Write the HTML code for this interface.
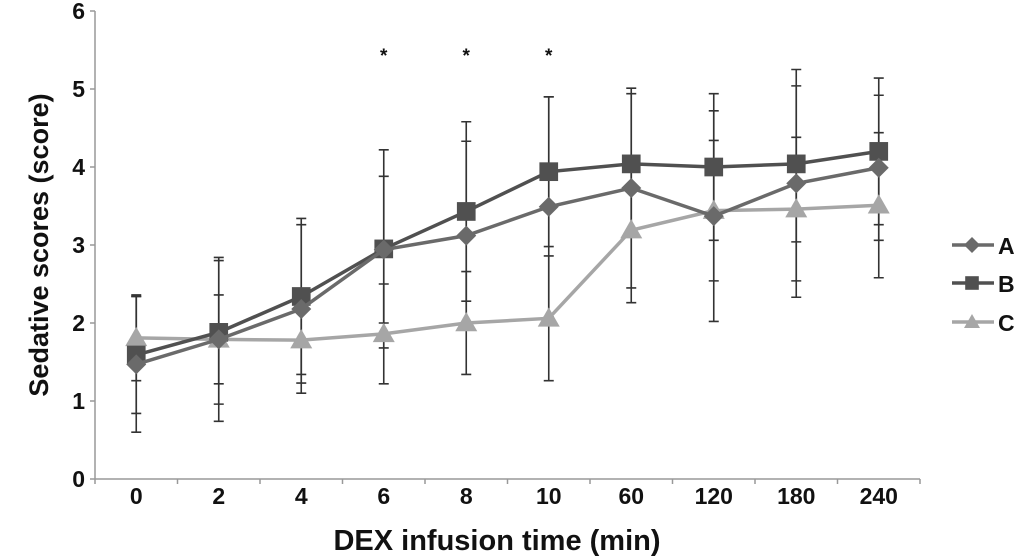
<!DOCTYPE html>
<html><head><meta charset="utf-8"><style>
html,body{margin:0;padding:0;background:#fff;}
svg{display:block;font-family:"Liberation Sans",sans-serif;font-weight:bold;}
</style></head><body>
<svg id="chart" width="1033" height="559" viewBox="0 0 1033 559" xmlns="http://www.w3.org/2000/svg">
<g id="axes"></g><g id="errs"></g><g id="lines"></g><g id="legend"></g>
</svg>
<script>
const categories = ["0","2","4","6","8","10","60","120","180","240"];
const seriesA = [1.47,1.79,2.18,2.94,3.12,3.49,3.73,3.37,3.79,3.99];
const seriesB = [1.59,1.88,2.34,2.95,3.43,3.94,4.04,4.00,4.04,4.20];
const seriesC = [1.81,1.79,1.78,1.86,2.00,2.06,3.19,3.44,3.46,3.51];
const sdA = [0.87,1.05,1.08,0.94,1.21,1.41,1.28,1.35,1.46,0.93];
const sdB = [0.75,0.92,1.00,1.27,1.15,0.96,0.90,0.94,1.00,0.94];
const sdC = [0.55,0.57,0.55,0.64,0.66,0.80,0.93,0.90,0.92,0.93];
const yTicks = [0,1,2,3,4,5,6];
const significant = ["6","8","10"];

const NS="http://www.w3.org/2000/svg";
const x0=95, band=82.5, y0=479, unit=78;
const xScale=i=>x0+band*(i+0.5);
const yScale=v=>y0-v*unit;
function mk(tag,attrs,parent){const e=document.createElementNS(NS,tag);for(const k in attrs)e.setAttribute(k,attrs[k]);parent.appendChild(e);return e;}
const axes=document.getElementById('axes'),errs=document.getElementById('errs'),lines=document.getElementById('lines'),legend=document.getElementById('legend');

let yl=mk('line',{x1:x0,y1:yScale(6),x2:x0,y2:y0,stroke:'#999','stroke-width':1.5},axes);


let xl=mk('line',{x1:x0,y1:y0,x2:x0+band*categories.length,y2:y0,stroke:'#999','stroke-width':1.5},axes);


yTicks.forEach(v=>{
  mk('line',{x1:x0-5,y1:yScale(v),x2:x0,y2:yScale(v),stroke:'#999','stroke-width':1.5},axes);
  const t=mk('text',{x:x0-10,y:yScale(v)+8,'text-anchor':'end','font-size':23,fill:'#111'},axes);
  t.textContent=v;
  
  
});
for(let i=0;i<=categories.length;i++){mk('line',{x1:x0+band*i,y1:y0,x2:x0+band*i,y2:y0+5,stroke:'#999','stroke-width':1.5},axes);}
categories.forEach((c,i)=>{
  const t=mk('text',{x:xScale(i),y:y0+25,'text-anchor':'middle','font-size':23,fill:'#111'},axes);
  t.textContent=c;
  
  
  if(significant.includes(c)){
    const s=mk('text',{x:xScale(i),y:62,'text-anchor':'middle','font-size':19,fill:'#111'},axes);
    s.textContent='*';
    
    
  }
});
let xt=mk('text',{x:497,y:550,'text-anchor':'middle','font-size':29,fill:'#111'},axes);
xt.textContent='DEX infusion time (min)';


let yt=mk('text',{x:0,y:0,'text-anchor':'middle','font-size':27,fill:'#111',transform:'translate(48,245) rotate(-90)'},axes);
yt.textContent='Sedative scores (score)';



function marker(type,cx,cy,color,parent,s){
  if(type==='diamond')return mk('polygon',{points:`${cx},${cy-s} ${cx+s},${cy} ${cx},${cy+s} ${cx-s},${cy}`,fill:color},parent);
  if(type==='square')return mk('rect',{x:cx-s*0.85,y:cy-s*0.85,width:s*1.7,height:s*1.7,fill:color},parent);
  return mk('polygon',{points:`${cx},${cy-s} ${cx+s},${cy+s*0.75} ${cx-s},${cy+s*0.75}`,fill:color},parent);
}
const series=[
 {name:'A',vals:seriesA,sd:sdA,color:'#6a6a6a',m:'diamond',s:10},
 {name:'B',vals:seriesB,sd:sdB,color:'#505050',m:'square',s:11},
 {name:'C',vals:seriesC,sd:sdC,color:'#a6a6a6',m:'triangle',s:11}
];
series.forEach(sr=>{
  sr.vals.forEach((v,i)=>{
    const x=xScale(i),yt=yScale(v+sr.sd[i]),yb=yScale(v-sr.sd[i]);
    const e=mk('path',{d:`M${x},${yt}V${yb}M${x-5},${yt}H${x+5}M${x-5},${yb}H${x+5}`,stroke:'#333','stroke-width':1.6,fill:'none'},errs);
    
    
  });
});
series.slice().reverse().forEach(sr=>{
  const p=mk('polyline',{points:sr.vals.map((v,i)=>xScale(i)+','+yScale(v)).join(' '),fill:'none',stroke:sr.color,'stroke-width':3.5},lines);
  
  
  sr.vals.forEach((v,i)=>{
    const m=marker(sr.m,xScale(i),yScale(v),sr.color,lines,sr.s);
    
    
  });
});
const legY=[245,283,322];
series.forEach((sr,k)=>{
  const g=mk('g',{},legend);
  
  
  mk('line',{x1:952,y1:legY[k],x2:994,y2:legY[k],stroke:sr.color,'stroke-width':3.5},g);
  marker(sr.m,972,legY[k],sr.color,g,8);
  const t=mk('text',{x:998,y:legY[k]+9,'font-size':23,fill:'#111'},g);
  t.textContent=sr.name;
});
</script>
</body></html>
